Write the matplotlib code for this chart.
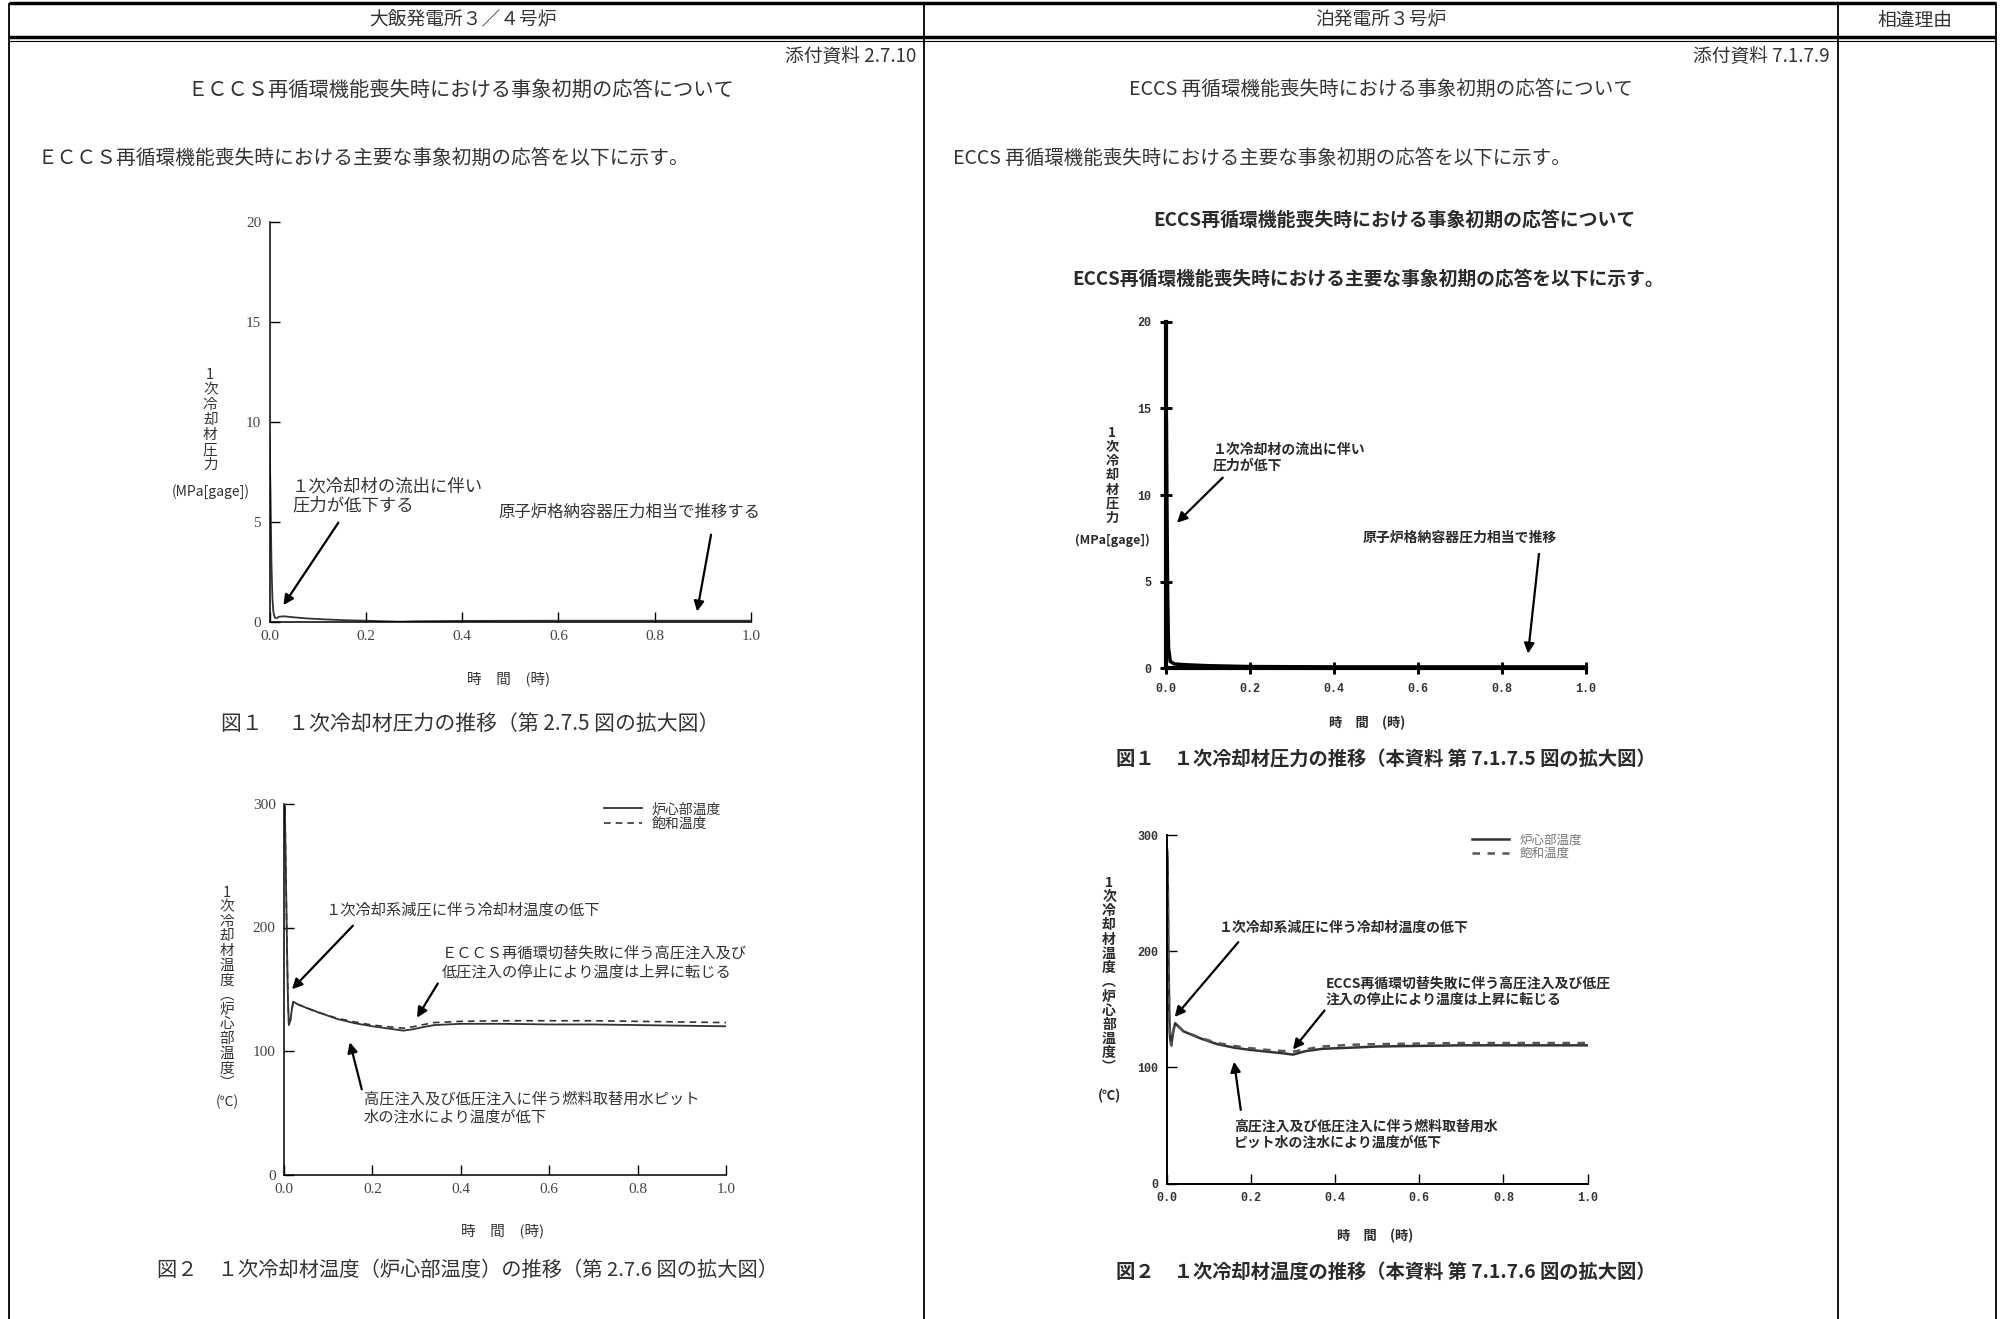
import numpy as np
import matplotlib
matplotlib.use("Agg")
import matplotlib.pyplot as plt

plt.rcParams['font.family'] = ['Noto Sans CJK JP', 'DejaVu Sans']

W, H = 2006, 1319

# ---------------- data ----------------
x_ticks = [0.0, 0.2, 0.4, 0.6, 0.8, 1.0]

# 大飯 図1 : primary coolant pressure (MPa[gage])
ohi_p_time = [0.0, 0.002, 0.004, 0.006, 0.008, 0.011, 0.015, 0.02, 0.03, 0.05,
              0.08, 0.12, 0.16, 0.2, 0.24, 0.27, 0.3, 0.4, 0.6, 0.8, 1.0]
ohi_p = [9.3, 6.5, 3.0, 1.2, 0.5, 0.2, 0.18, 0.25, 0.27, 0.22,
         0.16, 0.11, 0.07, 0.05, 0.02, 0.0, 0.02, 0.04, 0.05, 0.05, 0.05]

# 泊 図1
tom_p_time = [0.0, 0.001, 0.002, 0.004, 0.006, 0.01, 0.02, 0.05, 0.1, 0.2, 0.4, 0.6, 0.8, 1.0]
tom_p = [15.5, 14.0, 10.0, 4.0, 1.2, 0.4, 0.25, 0.2, 0.15, 0.1, 0.08, 0.08, 0.08, 0.08]

# 大飯 図2 : core temperature / saturation temperature (deg C)
ohi_t_time = [0.0, 0.002, 0.004, 0.007, 0.009, 0.011, 0.014, 0.018, 0.021, 0.03, 0.05,
              0.08, 0.12, 0.16, 0.2, 0.24, 0.27, 0.29, 0.31, 0.34, 0.4, 0.5, 0.6,
              0.7, 0.8, 0.9, 1.0]
ohi_core = [290, 298, 250, 180, 140, 121, 124, 134, 140, 138, 135,
            131, 126, 122.5, 120, 118, 116.5, 117.5, 119, 121, 122, 122, 121.5,
            121.5, 121, 120.5, 120]
ohi_sat = [290, 298, 250, 180, 140, 121, 124, 134, 140, 138, 135,
           131, 126.5, 123.5, 121, 119.5, 118.5, 119.5, 121, 123, 124, 124.5, 124.5,
           124.5, 124, 123.5, 123]

# 泊 図2
tom_t_time = [0.0, 0.002, 0.004, 0.006, 0.008, 0.011, 0.015, 0.02, 0.04, 0.08, 0.12,
              0.16, 0.2, 0.24, 0.28, 0.3, 0.33, 0.37, 0.44, 0.5, 0.6, 0.7, 0.8, 0.9, 1.0]
tom_core = [290, 280, 200, 146, 125, 119, 130, 138, 131, 125, 120,
            117, 115, 113.5, 112, 111, 114, 116, 117, 118, 118.5, 119, 119, 119, 119]
tom_sat = [290, 280, 200, 146, 125, 119, 130, 138, 131, 125.5, 121,
           118.5, 116.5, 115, 114, 113.5, 115.5, 118, 119.5, 120, 120.5, 121, 121, 121, 121]

legend_labels = ['炉心部温度', '飽和温度']


# ---------------- figure & page background ----------------
fig = plt.figure(figsize=(W / 100, H / 100), dpi=100)

bg = fig.add_axes([0, 0, 1, 1])
bg.set_xlim(0, W)
bg.set_ylim(H, 0)
bg.axis('off')

# table frame
bg.vlines([9, 924, 1838, 1996], 3, H, color='black', lw=1.3)
bg.hlines(3, 9, 1996, color='black', lw=2.5)
bg.hlines(37, 9, 1996, color='black', lw=2.5)
bg.hlines(41, 9, 1996, color='black', lw=0.8)

doc = dict(color='#333', va='center')
bg.text(463, 20, '大飯発電所３／４号炉', ha='center', fontsize=13.5, **doc)
bg.text(1381, 20, '泊発電所３号炉', ha='center', fontsize=13.5, **doc)
bg.text(1915, 20, '相違理由', ha='center', fontsize=13.5, **doc)

bg.text(916, 56, '添付資料 2.7.10', ha='right', fontsize=13.5, **doc)
bg.text(1830, 56, '添付資料 7.1.7.9', ha='right', fontsize=13.5, **doc)
bg.text(461, 90, 'ＥＣＣＳ再循環機能喪失時における事象初期の応答について', ha='center', fontsize=14.6, **doc)
bg.text(1381, 90, 'ECCS 再循環機能喪失時における事象初期の応答について', ha='center', fontsize=14.1, **doc)
bg.text(38, 159, 'ＥＣＣＳ再循環機能喪失時における主要な事象初期の応答を以下に示す。', ha='left', fontsize=14.2, **doc)
bg.text(953, 159, 'ECCS 再循環機能喪失時における主要な事象初期の応答を以下に示す。', ha='left', fontsize=14, **doc)

bold = dict(color='#2a2a2a', fontweight='bold', va='center')
bg.text(1394, 220, 'ECCS再循環機能喪失時における事象初期の応答について', ha='center', fontsize=13.6, **bold)
bg.text(1368, 279, 'ECCS再循環機能喪失時における主要な事象初期の応答を以下に示す。', ha='center', fontsize=13.5, **bold)


# ---------------- helpers ----------------
def chart_axes(l, t, r, b):
    ax = fig.add_axes([l / W, 1 - b / H, (r - l) / W, (b - t) / H])
    ax.patch.set_alpha(0)
    return ax


def style_axes(ax, ymax, ystep, spine_w, tick_kw, tick_dir, tick_len):
    ax.spines['top'].set_visible(False)
    ax.spines['right'].set_visible(False)
    ax.spines['left'].set_linewidth(spine_w)
    ax.spines['bottom'].set_linewidth(spine_w)
    ax.set_xlim(0, 1)
    ax.set_ylim(0, ymax)
    ax.set_xticks(x_ticks)
    ax.set_xticklabels([f'{v:.1f}' for v in x_ticks], **tick_kw)
    yt = list(range(0, ymax + 1, ystep))
    ax.set_yticks(yt)
    ax.set_yticklabels([str(v) for v in yt], **tick_kw)
    ax.tick_params(direction=tick_dir, length=tick_len, width=max(1.0, spine_w * 0.7), pad=6)


def vlabel(ax, x, y_top, chars, unit, unit_y, size, spacing=1.02, **kw):
    ax.text(x, y_top, '\n'.join(chars), ha='center', va='top', fontsize=size,
            linespacing=spacing, **kw)
    ax.text(x, unit_y, unit, ha='center', va='center', fontsize=size - 0.5, **kw)


def lines(ax, x, ys, texts, size, **kw):
    for y, s in zip(ys, texts):
        ax.text(x, y, s, ha='left', va='center', fontsize=size, **kw)


def arrow(ax, tail, head, lw=1.6):
    ax.annotate('', xy=head, xytext=tail,
                arrowprops=dict(arrowstyle='-|>', color='black', lw=lw,
                                mutation_scale=15, shrinkA=0, shrinkB=0))


serif_ticks = dict(fontfamily='Liberation Serif', fontsize=11, color='#444')
mono_ticks = dict(fontfamily='Liberation Mono', fontsize=8.5, fontweight='bold', color='#333')
left_txt = dict(color='#333')
right_txt = dict(color='#2a2a2a', fontweight='bold')

# ---------------- 大飯 図1 ----------------
ax1 = chart_axes(269.5, 221.7, 751, 621.7)
ax1.plot(ohi_p_time, ohi_p, color='#333', lw=1.3)
style_axes(ax1, 20, 5, 1.1, serif_ticks, 'in', 7)
vlabel(ax1, -0.123, 12.7, '1次冷却材圧力', '(MPa[gage])', 6.5, 10.5, spacing=1.1, **left_txt)
lines(ax1, 0.047, [6.75, 5.8], ['１次冷却材の流出に伴い', '圧力が低下する'], 12.5, **left_txt)
arrow(ax1, (0.143, 4.95), (0.029, 0.83))
lines(ax1, 0.476, [5.5], ['原子炉格納容器圧力相当で推移する'], 11.8, **left_txt)
arrow(ax1, (0.917, 4.35), (0.888, 0.51))
ax1.text(0.497, -2.84, '時　間　(時)', ha='center', va='center', fontsize=10.5, **left_txt)
ax1.text(0.417, -5.1, '図１　 １次冷却材圧力の推移（第 2.7.5 図の拡大図）',
         ha='center', va='center', fontsize=15, **left_txt)

# ---------------- 泊 図1 ----------------
ax2 = chart_axes(1166, 321.7, 1586, 668.3)
ax2.plot(tom_p_time, tom_p, color='black', lw=2.5)
style_axes(ax2, 20, 5, 3.0, mono_ticks, 'inout', 9)
vlabel(ax2, -0.128, 14.0, '1次冷却材圧力', '(MPa[gage])', 7.4, 9.5, **right_txt)
lines(ax2, 0.112, [12.6, 11.7], ['１次冷却材の流出に伴い', '圧力が低下'], 10, **right_txt)
arrow(ax2, (0.135, 11.0), (0.026, 8.4))
lines(ax2, 0.468, [7.55], ['原子炉格納容器圧力相当で推移'], 10, **right_txt)
arrow(ax2, (0.888, 6.6), (0.862, 0.85))
ax2.text(0.48, -3.14, '時　間　(時)', ha='center', va='center', fontsize=9.5, **right_txt)
ax2.text(0.524, -5.3, '図１　１次冷却材圧力の推移（本資料 第 7.1.7.5 図の拡大図）',
         ha='center', va='center', fontsize=13.9, **right_txt)

# ---------------- 大飯 図2 ----------------
ax3 = chart_axes(284, 804, 726, 1174.5)
ax3.plot(ohi_t_time, ohi_core, color='#333', lw=1.3, label=legend_labels[0])
ax3.plot(ohi_t_time, ohi_sat, color='#333', lw=1.2, ls=(0, (4, 3)), label=legend_labels[1])
style_axes(ax3, 300, 100, 1.1, serif_ticks, 'in', 7)
ax3.legend(loc='upper left', bbox_to_anchor=(0.725, 1.005), frameon=False, fontsize=10,
           handlelength=2.7, handletextpad=0.7, labelspacing=0.05, borderpad=0,
           borderaxespad=0, labelcolor='#333')
vlabel(ax3, -0.129, 234, '1次冷却材温度︵炉心部温度︶', '(℃)', 59, 10.5, spacing=1.06, **left_txt)
lines(ax3, 0.094, [214], ['１次冷却系減圧に伴う冷却材温度の低下'], 11, **left_txt)
arrow(ax3, (0.156, 201.5), (0.018, 150))
lines(ax3, 0.357, [179, 164], ['ＥＣＣＳ再循環切替失敗に伴う高圧注入及び',
                               '低圧注入の停止により温度は上昇に転じる'], 11, **left_txt)
arrow(ax3, (0.348, 154.7), (0.301, 127))
lines(ax3, 0.181, [60.8, 46.7], ['高圧注入及び低圧注入に伴う燃料取替用水ピット',
                                 '水の注水により温度が低下'], 11, **left_txt)
arrow(ax3, (0.176, 68.9), (0.149, 107))
ax3.text(0.495, -45.5, '時　間　(時)', ha='center', va='center', fontsize=10.5, **left_txt)
ax3.text(0.415, -78, '図２　１次冷却材温度（炉心部温度）の推移（第 2.7.6 図の拡大図）',
         ha='center', va='center', fontsize=14.6, **left_txt)

# ---------------- 泊 図2 ----------------
ax4 = chart_axes(1166.7, 835, 1587.6, 1183.6)
ax4.plot(tom_t_time, tom_core, color='#333', lw=1.8, label=legend_labels[0])
ax4.plot(tom_t_time, tom_sat, color='#555', lw=1.8, ls=(0, (3, 3)), label=legend_labels[1])
style_axes(ax4, 300, 100, 1.4, mono_ticks, 'in', 7)
ax4.legend(loc='upper left', bbox_to_anchor=(0.725, 1.005), frameon=False, fontsize=9,
           handlelength=3.0, handletextpad=0.8, labelspacing=0.05, borderpad=0,
           borderaxespad=0, labelcolor='#777')
vlabel(ax4, -0.137, 265, '1次冷却材温度︵炉心部温度︶', '(℃)', 75, 10, **right_txt)
lines(ax4, 0.125, [220.6], ['１次冷却系減圧に伴う冷却材温度の低下'], 10, **right_txt)
arrow(ax4, (0.17, 207.7), (0.019, 143.4))
lines(ax4, 0.377, [172.6, 158.3], ['ECCS再循環切替失敗に伴う高圧注入及び低圧',
                                   '注入の停止により温度は上昇に転じる'], 10, **right_txt)
arrow(ax4, (0.375, 149), (0.30, 115.4))
lines(ax4, 0.16, [49, 34.9], ['高圧注入及び低圧注入に伴う燃料取替用水',
                              'ピット水の注水により温度が低下'], 10, **right_txt)
arrow(ax4, (0.176, 63.4), (0.16, 104.9))
ax4.text(0.495, -45, '時　間　(時)', ha='center', va='center', fontsize=9.5, **right_txt)
ax4.text(0.52, -76.6, '図２　１次冷却材温度の推移（本資料 第 7.1.7.6 図の拡大図）',
         ha='center', va='center', fontsize=13.9, **right_txt)

fig.savefig('out.png', dpi=100)
